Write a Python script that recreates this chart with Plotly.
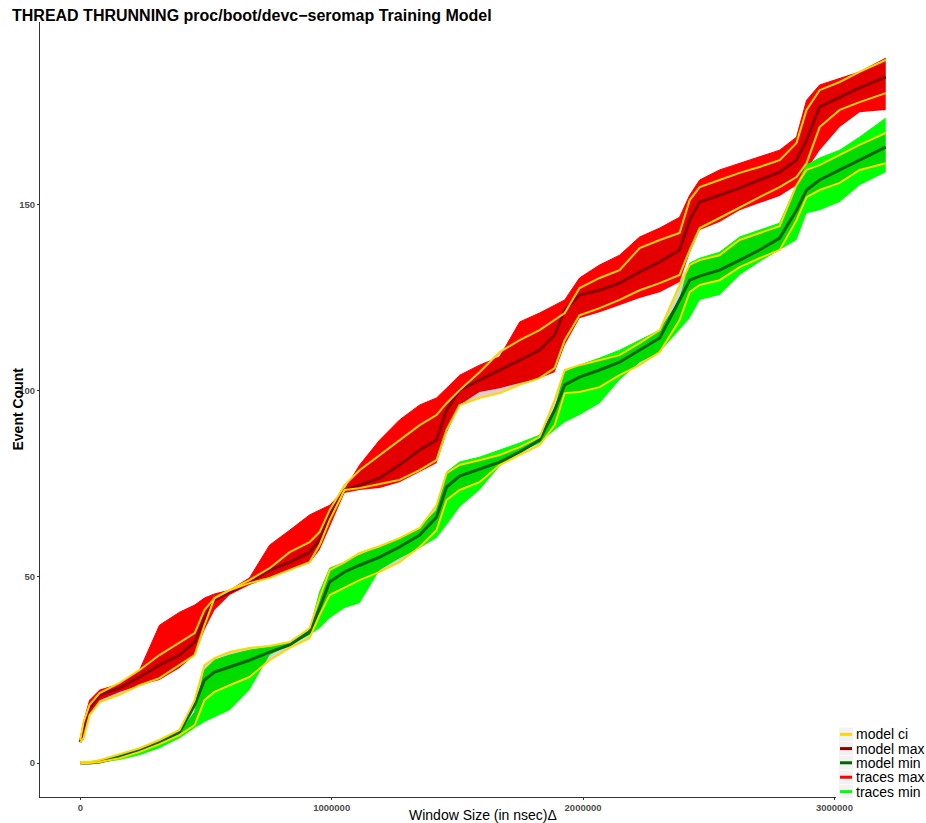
import plotly.graph_objects as go

# Window size (ns)
x_ns = [0, 13000, 37000, 77000, 156000, 236000, 315000, 395000, 455000, 494000,
        534000, 594000, 673000, 753000, 833000, 912000, 952000, 992000, 1051000, 1111000,
        1191000, 1270000, 1350000, 1417000, 1457000, 1509000, 1588000, 1668000, 1748000, 1827000,
        1887000, 1927000, 1986000, 2066000, 2145000, 2225000, 2305000, 2384000, 2424000, 2464000,
        2543000, 2623000, 2702000, 2782000, 2849000, 2889000, 2941000, 3021000, 3100000, 3204000]

# traces max envelope (red)
traces_max_upper = [6.2, 11.0, 16.9, 19.6, 21.2, 25.0, 37.0, 40.5, 42.4, 44.3,
                    45.4, 46.4, 49.7, 58.5, 62.5, 66.6, 67.9, 69.2, 73.3, 80.0,
                    86.7, 92.1, 96.1, 98.0, 100.6, 104.1, 106.8, 109.0, 118.4, 120.8,
                    122.9, 124.3, 130.2, 133.7, 136.3, 141.2, 143.6, 146.5, 152.4, 156.5,
                    159.2, 161.0, 162.6, 164.5, 168.0, 177.9, 182.0, 183.8, 185.5, 189.2]
traces_max_lower = [5.6, 6.2, 12.9, 16.9, 19.1, 20.9, 22.3, 25.5, 29.0, 35.7,
                    41.1, 45.1, 47.8, 49.7, 51.8, 53.7, 57.2, 63.3, 72.5, 73.3,
                    73.8, 75.4, 78.1, 80.5, 88.6, 96.1, 99.6, 100.6, 102.0, 103.3,
                    104.9, 112.2, 119.4, 121.0, 122.9, 124.8, 126.4, 129.1, 136.9, 143.1,
                    145.2, 148.4, 150.3, 152.2, 155.1, 159.2, 164.5, 170.7, 174.7, 175.3]
model_max = [5.6, 9.4, 14.8, 18.3, 20.1, 23.1, 26.3, 29.0, 32.5, 38.9,
             43.7, 45.9, 48.6, 51.8, 53.9, 56.6, 59.9, 66.6, 73.3, 74.6,
             76.5, 80.0, 84.0, 86.7, 94.7, 100.1, 102.8, 105.5, 108.2, 110.8,
             114.9, 121.6, 125.6, 126.9, 128.8, 131.8, 134.5, 137.7, 145.7, 150.6,
             152.4, 154.3, 156.5, 158.6, 161.8, 167.2, 176.1, 178.7, 181.2, 184.1]
max_ci_upper = [6.2, 11.0, 15.6, 18.8, 21.5, 25.0, 29.0, 32.5, 34.9, 41.1,
                44.3, 46.4, 49.1, 52.3, 56.6, 59.3, 62.0, 67.9, 74.6, 78.6,
                82.7, 86.7, 90.7, 93.4, 96.6, 100.1, 104.9, 110.3, 113.5, 116.2,
                118.9, 120.8, 127.5, 130.2, 132.3, 138.2, 140.4, 142.3, 151.1, 154.6,
                156.5, 158.4, 160.0, 161.8, 166.4, 175.3, 180.6, 182.8, 185.5, 188.7]
max_ci_lower = [5.6, 6.7, 12.9, 16.4, 18.3, 20.9, 22.8, 26.3, 29.0, 37.0,
                44.3, 46.4, 48.3, 49.7, 51.8, 53.9, 58.5, 65.2, 73.3, 73.8,
                74.9, 76.0, 78.6, 81.3, 89.4, 96.1, 98.0, 99.3, 101.5, 103.3,
                106.0, 113.5, 120.2, 122.1, 124.3, 126.9, 128.8, 131.0, 137.7, 143.6,
                146.3, 149.2, 151.9, 154.6, 157.3, 161.0, 170.7, 175.3, 177.4, 179.8]

# traces min envelope (green)
traces_min_upper = [0.3, 0.3, 0.3, 0.8, 2.1, 4.0, 5.9, 8.1, 13.7, 25.0,
                    27.6, 29.0, 30.3, 31.1, 32.2, 35.7, 45.9, 52.3, 53.9, 55.8,
                    58.2, 60.4, 63.1, 67.9, 78.1, 80.8, 82.1, 84.0, 85.9, 88.0,
                    94.7, 104.9, 106.8, 108.7, 110.8, 113.5, 116.2, 124.3, 134.2, 135.5,
                    137.1, 141.2, 143.1, 144.9, 155.1, 160.5, 162.4, 164.5, 168.0, 173.1]
traces_min_lower = [0, 0, 0, 0, 0.8, 2.1, 4.0, 6.7, 9.4, 11.0,
                    12.3, 14.2, 19.6, 29.0, 31.7, 34.4, 36.2, 38.9, 41.6, 42.9,
                    51.8, 55.0, 57.7, 60.4, 63.9, 68.7, 73.3, 79.7, 83.5, 85.9,
                    89.4, 91.5, 93.4, 96.6, 102.8, 107.6, 110.3, 116.2, 119.4, 124.3,
                    125.6, 131.0, 134.5, 137.7, 140.4, 147.6, 148.4, 150.6, 155.1, 158.6]
model_min = [0, 0, 0, 0.3, 1.6, 3.5, 5.6, 8.3, 15.6, 22.3,
             24.4, 25.8, 27.6, 29.8, 31.7, 35.2, 41.6, 48.6, 51.3, 53.1,
             55.3, 58.0, 61.2, 66.0, 74.1, 77.0, 78.9, 80.8, 83.5, 86.7,
             94.7, 101.5, 103.6, 105.5, 107.6, 110.8, 114.1, 124.3, 129.6, 130.7,
             132.3, 135.0, 137.7, 140.9, 148.4, 153.8, 156.5, 159.2, 161.8, 165.3]
min_ci_upper = [0.3, 0.3, 0.3, 0.8, 2.4, 4.0, 6.2, 8.9, 16.9, 26.3,
                28.2, 29.8, 30.9, 31.4, 32.5, 36.2, 44.3, 51.8, 53.9, 56.4,
                58.2, 60.4, 63.1, 69.2, 77.8, 80.0, 81.3, 82.7, 84.8, 87.5,
                97.4, 105.5, 106.8, 108.2, 109.5, 112.7, 116.2, 128.3, 133.7, 135.0,
                136.3, 140.4, 142.3, 144.1, 155.1, 159.2, 160.5, 163.2, 165.9, 169.1]
min_ci_lower = [0, 0, 0, 0.3, 1.3, 3.0, 5.1, 7.5, 10.2, 16.9,
                19.1, 20.9, 23.1, 27.6, 30.9, 33.5, 39.7, 45.1, 47.0, 49.1,
                51.3, 53.9, 58.0, 62.5, 70.6, 73.3, 75.4, 80.0, 82.7, 85.3,
                90.7, 99.3, 99.6, 100.9, 104.1, 106.8, 110.3, 118.9, 126.4, 128.3,
                129.6, 133.1, 135.5, 137.7, 145.7, 151.9, 153.8, 155.7, 159.2, 161.0]

y_ticks = [0, 50, 100, 150]
x_ticks = [0, 1000000, 2000000, 3000000]
x_tick_labels = ["0", "1000000", "2000000", "3000000"]

legend_names = ["model ci", "model max", "model min", "traces max", "traces min"]
legend_colors = ["#FFD700", "#8B0000", "#006400", "#FF0000", "#00FF00"]

W, H = 926, 823
ML, MR, MT, MB = 40, 0, 22, 26
PW, PH = W - ML - MR, H - MT - MB

def px_x(p):  # window pixel -> paper x
    return (p - ML) / PW

def px_y(p):  # window pixel -> paper y
    return (H - MB - p) / PH

fig = go.Figure()

def band(lower, upper, color):
    fig.add_trace(go.Scatter(x=x_ns, y=lower, mode="lines", line=dict(width=0, color=color),
                             showlegend=False, hoverinfo="skip"))
    fig.add_trace(go.Scatter(x=x_ns, y=upper, mode="lines", line=dict(width=1, color=color),
                             fill="tonexty", fillcolor=color, showlegend=False, hoverinfo="skip"))

band(traces_max_lower, traces_max_upper, "#FF0000")
band(max_ci_lower, max_ci_upper, "rgba(120,0,0,0.2)")
band(traces_min_lower, traces_min_upper, "#00FF00")
band(min_ci_lower, min_ci_upper, "rgba(0,80,0,0.2)")

fig.add_trace(go.Scatter(x=x_ns, y=model_max, mode="lines", line=dict(width=3, color="#8B0000"),
                         showlegend=False))
fig.add_trace(go.Scatter(x=x_ns, y=model_min, mode="lines", line=dict(width=3, color="#006400"),
                         showlegend=False))
for ys in (max_ci_upper, max_ci_lower, min_ci_upper, min_ci_lower):
    fig.add_trace(go.Scatter(x=x_ns, y=ys, mode="lines", line=dict(width=2, color="#FFD700"),
                             showlegend=False))

# legend (inside the panel, bottom-right, ggplot style)
shapes = [dict(type="rect", xref="paper", yref="paper", layer="above",
               x0=px_x(836), x1=1.0, y0=px_y(727), y1=px_y(800),
               fillcolor="white", line=dict(width=0))]
annotations = []
row_centers = [734.4, 748.6, 762.8, 777.2, 791.6]
for name, col, yc in zip(legend_names, legend_colors, row_centers):
    shapes.append(dict(type="rect", xref="paper", yref="paper", layer="above",
                       x0=px_x(839), x1=px_x(853), y0=px_y(yc + 6.8), y1=px_y(yc - 6.8),
                       fillcolor="#F2F2F2", line=dict(width=0)))
    shapes.append(dict(type="line", xref="paper", yref="paper", layer="above",
                       x0=px_x(840), x1=px_x(852), y0=px_y(yc), y1=px_y(yc),
                       line=dict(color=col, width=3)))
    annotations.append(dict(text=name, xref="paper", yref="paper", x=px_x(854), y=px_y(yc),
                            xanchor="left", yanchor="middle", showarrow=False,
                            font=dict(size=14, color="black")))

annotations.append(dict(text="Window Size (in nsec)\u0394", xref="paper", yref="paper",
                        x=0.5, y=px_y(815), xanchor="center", yanchor="middle",
                        showarrow=False, font=dict(size=14, color="black")))
annotations.append(dict(text="Event Count", xref="paper", yref="paper", textangle=-90,
                        x=px_x(17), y=0.5, xanchor="center", yanchor="middle",
                        showarrow=False, font=dict(size=14, color="black", weight="bold")))

fig.update_layout(
    width=W, height=H,
    margin=dict(l=ML, r=MR, t=MT, b=MB),
    paper_bgcolor="white", plot_bgcolor="white",
    font=dict(family="Liberation Sans, Arial, sans-serif", color="black"),
    title=dict(text="THREAD THRUNNING proc/boot/devc\u2212seromap Training Model",
               xref="container", yref="container",
               x=12 / W, xanchor="left", y=1 - 15 / H, yanchor="middle",
               font=dict(size=16, weight="bold", color="black")),
    showlegend=False,
    shapes=shapes,
    annotations=annotations,
    xaxis=dict(range=[-160200, 3364200], showgrid=False, zeroline=False,
               showline=True, linecolor="#333333", linewidth=1,
               tickvals=x_ticks, ticktext=x_tick_labels, ticks="outside", ticklen=2,
               tickcolor="#333333", automargin=False,
               tickfont=dict(size=9.5, color="#4d4d4d", weight="bold")),
    yaxis=dict(range=[-9.1, 198.9], showgrid=False, zeroline=False,
               showline=True, linecolor="#333333", linewidth=1,
               tickvals=y_ticks, ticks="outside", ticklen=2, tickcolor="#333333",
               automargin=False,
               tickfont=dict(size=9.5, color="#4d4d4d", weight="bold")),
)

fig.write_html(
    "out.html",
    config={"displayModeBar": False},
    post_script="document.body.style.margin='0px';document.body.style.overflow='hidden';",
)
